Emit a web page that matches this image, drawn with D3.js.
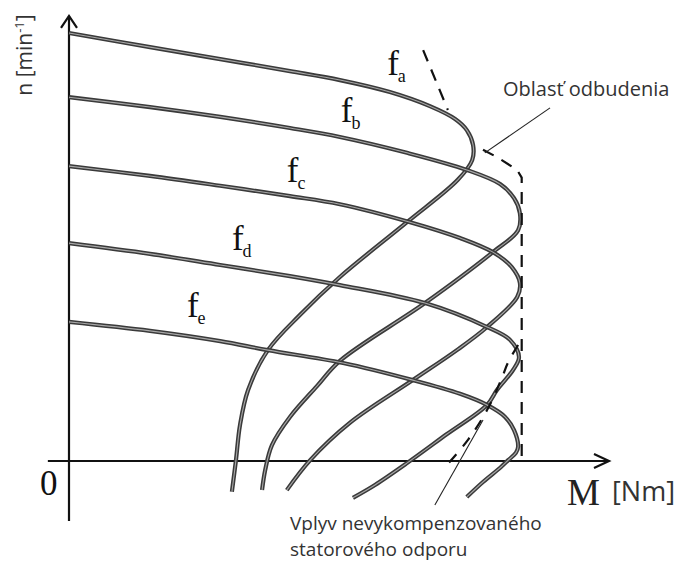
<!DOCTYPE html>
<html>
<head>
<meta charset="utf-8">
<script src="https://cdn.jsdelivr.net/npm/d3@7"></script>
<style>
  html, body { margin: 0; padding: 0; background: #fff; }
  svg { display: block; }
</style>
</head>
<body>
<svg id="chart" width="677" height="562"></svg>
<script>
// Torque–speed characteristics M(n) of an induction machine at five supply frequencies.
// Each series: [M, n] pairs, upper (stable) branch from no-load to breakdown, then the lower branch.
const categories = ["a", "b", "c", "d", "e"];

const curveFa = [[0,100],[18.0,96.7],[33.6,93.9],[49.1,91.1],[60.2,89.0],[71.3,86.2],[80.2,82.9],[85.8,79.9],[88.4,77.3],[89.8,73.8],
                 [89.6,70.3],[86.4,65.7],[75.1,55.8],[60.2,43.0],[51.3,34.1],[44.2,25.9],[39.8,16.6],[38.0,8.4],[37.1,0.2],[36.2,-7.2]];
const curveFb = [[0,85.0],[18.0,82.7],[33.6,80.4],[49.1,77.8],[60.2,75.7],[75.1,72.0],[88.4,68.0],[95.8,64.7],[98.9,61.4],[100.2,57.9],
                 [99.8,53.9],[94.2,48.8],[79.1,36.9],[60.2,23.4],[55.1,17.5],[49.1,10.3],[45.1,3.7],[43.6,-2.1],[42.9,-6.8]];
const curveFc = [[0,68.9],[18.0,66.6],[33.6,64.3],[49.1,61.9],[60.2,60.0],[75.8,55.8],[86.9,52.1],[94.2,48.8],[98.4,45.3],[100.2,41.6],
                 [99.6,38.3],[92.9,31.3],[86.2,25.9],[76.4,18.9],[62.4,8.9],[53.6,0.2],[48.4,-6.8]];
const curveFd = [[0,50.9],[18.0,48.4],[33.6,45.8],[49.1,43.2],[60.2,41.1],[79.1,36.9],[92.9,31.3],[98.0,28.3],[100.0,24.3],
                 [98.7,21.3],[95.1,16.6],[92.9,13.1],[84.0,6.3],[75.1,-0.5],[68.0,-5.6],[63.1,-8.6]];
const curveFe = [[0,32.5],[18.0,30.4],[33.6,28.0],[44.2,25.9],[60.9,22.9],[76.4,18.9],[86.9,15.7],[92.9,13.1],[96.9,10.3],[98.9,7.2],[99.8,3.3],
                 [99.3,1.9],[97.6,0.2],[96.0,-1.4],[92.0,-4.9],[88.4,-8.4]];
const seriesCurves = [curveFa, curveFb, curveFc, curveFd, curveFe];

// Label anchor of each f_x label (M, n)
const labelPos = [[70.7,90.2],[60.4,79.2],[48.4,65.2],[36.2,49.3],[26.2,33.6]];

// Field-weakening limit (dashed), in two visible parts
const weakeningTop = [[78.7,96.0],[84.2,82.0]];
const weakeningEdge = [[92.0,72.7],[95.1,71.0],[99.6,68.0],[100.6,66.2],[100.6,-0.5]];
// Effect of uncompensated stator resistance (dashed)
const statorLimit = [[99.8,27.1],[97.6,23.1],[96.0,18.9],[92.9,11.9],[88.7,5.0],[83.6,-1.4]];

// Annotation leader lines
const leaderWeakening = [[106.9,82.5],[92.4,72.0]];
const leaderStator = [[92.0,9.6],[81.3,-10.3]];

// Axis extents
const xAxisExtent = [-4.7, 120];
const yAxisExtent = [-14, 104];

const svg = d3.select("#chart");
const x = d3.scaleLinear().domain([0, 100]).range([69, 519]);
const y = d3.scaleLinear().domain([0, 100]).range([461, 33]);

const smooth = d3.line().x(d => x(d[0])).y(d => y(d[1])).curve(d3.curveCatmullRom.alpha(0.5));
const straight = d3.line().x(d => x(d[0])).y(d => y(d[1]));

// Axes
const axes = svg.append("g").attr("stroke", "#111").attr("stroke-width", 2.2).attr("fill", "none");
axes.append("line")
  .attr("x1", x(0)).attr("x2", x(0))
  .attr("y1", y(yAxisExtent[0])).attr("y2", y(yAxisExtent[1]));
axes.append("path")
  .attr("d", `M${x(0) - 8},${y(yAxisExtent[1]) + 12} L${x(0)},${y(yAxisExtent[1])} L${x(0) + 8},${y(yAxisExtent[1]) + 12}`);
axes.append("line")
  .attr("x1", x(xAxisExtent[0])).attr("x2", x(xAxisExtent[1]))
  .attr("y1", y(0)).attr("y2", y(0));
axes.append("path")
  .attr("d", `M${x(xAxisExtent[1]) - 15},${y(0) - 7} L${x(xAxisExtent[1])},${y(0)} L${x(xAxisExtent[1]) - 15},${y(0) + 7}`);

// Characteristic curves
const curves = svg.append("g").attr("fill", "none").attr("stroke-linecap", "butt");
seriesCurves.forEach(c => {
  curves.append("path").attr("d", smooth(c)).attr("stroke", "#3a3a3a").attr("stroke-width", 4.2);
  curves.append("path").attr("d", smooth(c)).attr("stroke", "#a8a8a8").attr("stroke-width", 1.1);
});

// Dashed limits
const dashed = svg.append("g").attr("fill", "none").attr("stroke", "#111").attr("stroke-width", 2.2).attr("stroke-dasharray", "12,9");
dashed.append("path").attr("d", straight(weakeningTop));
dashed.append("path").attr("d", straight(weakeningEdge));
dashed.append("path").attr("d", smooth(statorLimit)).attr("stroke-dasharray", "11,10");

// Leader lines
const leaders = svg.append("g").attr("stroke", "#222").attr("stroke-width", 1.1);
[leaderWeakening, leaderStator].forEach(l => leaders.append("path").attr("d", straight(l)));

// Curve labels f_a … f_e
const serif = "'Liberation Serif', 'Times New Roman', serif";
categories.forEach((cat, i) => {
  const t = svg.append("text")
    .attr("x", x(labelPos[i][0])).attr("y", y(labelPos[i][1]))
    .attr("font-family", serif).attr("font-size", 35).attr("fill", "#111");
  t.append("tspan").text("f");
  t.append("tspan").attr("dx", -1).attr("dy", 7).attr("font-size", 18).text(cat);
});

// Axis titles
const sans = "'Open Sans', 'Noto Sans', sans-serif";
const nTitle = svg.append("text")
  .attr("transform", "translate(32,55) rotate(-90)")
  .attr("text-anchor", "middle")
  .attr("font-family", sans).attr("font-size", 21).attr("fill", "#333");
nTitle.append("tspan").text("n [min");
nTitle.append("tspan").attr("dy", -8).attr("font-size", 13).text("-1");
nTitle.append("tspan").attr("dy", 8).text("]");

svg.append("text").attr("x", 40).attr("y", 495)
  .attr("font-family", serif).attr("font-size", 35).attr("fill", "#111").text("0");

svg.append("text").attr("x", 567).attr("y", 505)
  .attr("font-family", serif).attr("font-size", 37).attr("fill", "#222").text("M");
svg.append("text").attr("x", 612).attr("y", 501)
  .attr("font-family", sans).attr("font-size", 27).attr("fill", "#333").text("[Nm]");

// Annotations
svg.append("text").attr("x", 503).attr("y", 96)
  .attr("font-family", sans).attr("font-size", 20).attr("fill", "#333").text("Oblasť odbudenia");
const noteLines = ["Vplyv nevykompenzovaného", "statorového odporu"];
noteLines.forEach((line, i) => {
  svg.append("text").attr("x", 290).attr("y", 530 + i * 26)
    .attr("font-family", sans).attr("font-size", 19).attr("fill", "#333").text(line);
});
</script>
</body>
</html>
